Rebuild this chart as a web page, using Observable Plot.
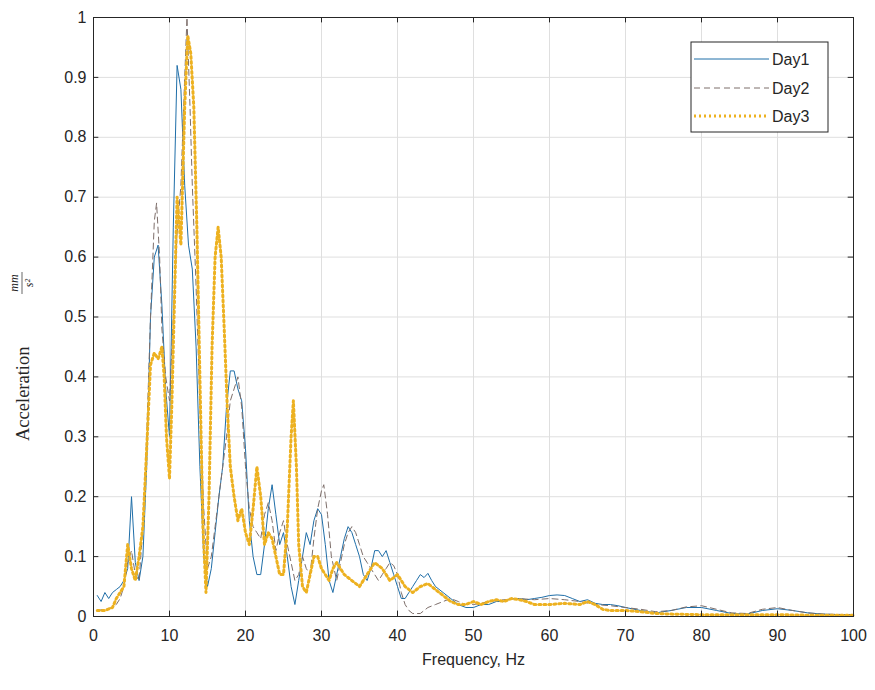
<!DOCTYPE html>
<html><head><meta charset="utf-8">
<script src="https://cdn.jsdelivr.net/npm/d3@7"></script>
<script src="https://cdn.jsdelivr.net/npm/@observablehq/plot@0.6"></script>
<style>body{margin:0;background:#fff}</style></head>
<body><div id="chart"></div>
<script>
const seriesNames = ["Day1", "Day2", "Day3"];

const day1Freq = [0.5,1,1.5,2,2.5,3,3.5,4,4.5,5,5.5,6,6.5,7,7.5,8,8.5,9,9.5,10,10.5,11,11.5,12,12.5,13,13.5,14,14.5,15,15.5,16,16.5,17,17.5,18,18.5,19,19.5,20,20.5,21,21.5,22,22.5,23,23.5,24,24.5,25,25.5,26,26.5,27,27.5,28,28.5,29,29.5,30,30.5,31,31.5,32,32.5,33,33.5,34,34.5,35,35.5,36,36.5,37,37.5,38,38.5,39,39.5,40,40.5,41,41.5,42,42.5,43,43.5,44,44.5,45,46,47,48,49,50,51,52,53,54,55,56,57,58,59,60,61,62,63,64,65,66,67,68,69,70,72,74,76,78,80,82,84,86,88,90,92,94,96,98,100];
const day1Acc = [0.035,0.025,0.04,0.03,0.04,0.045,0.05,0.06,0.08,0.2,0.09,0.06,0.1,0.25,0.5,0.6,0.62,0.52,0.38,0.3,0.65,0.92,0.88,0.72,0.62,0.58,0.45,0.25,0.1,0.05,0.08,0.14,0.2,0.25,0.35,0.41,0.41,0.38,0.36,0.28,0.16,0.1,0.07,0.07,0.12,0.18,0.22,0.17,0.12,0.14,0.1,0.05,0.02,0.06,0.1,0.14,0.12,0.16,0.18,0.17,0.12,0.06,0.04,0.07,0.1,0.13,0.15,0.14,0.12,0.1,0.07,0.06,0.08,0.11,0.11,0.1,0.11,0.09,0.07,0.05,0.03,0.03,0.04,0.05,0.06,0.07,0.065,0.072,0.06,0.05,0.04,0.03,0.02,0.015,0.015,0.02,0.02,0.025,0.025,0.03,0.03,0.028,0.03,0.032,0.035,0.036,0.035,0.03,0.025,0.028,0.022,0.02,0.02,0.018,0.015,0.01,0.006,0.01,0.015,0.015,0.01,0.005,0.004,0.01,0.013,0.01,0.006,0.004,0.003,0.003];

const day2Freq = [0.5,1.5,2.5,3,3.5,4,4.5,5,5.5,6,6.5,7,7.5,8,8.3,8.7,9,9.5,10,10.5,11,11.5,12,12.3,12.7,13,13.5,14,14.5,15,15.5,16,16.5,17,17.5,18,18.5,19,19.5,20,20.5,21,21.5,22,22.5,23,23.5,24,24.5,25,25.5,26,26.5,27,27.5,28,28.5,29,29.5,30,30.3,30.8,31.3,32,32.5,33,33.5,34,34.5,35,35.5,36,36.5,37,37.5,38,38.5,39,39.5,40,40.5,41,41.5,42,43,44,45,46,47,48,49,50,51,52,54,56,58,60,62,64,66,68,70,72,74,76,78,80,82,84,86,88,90,92,94,96,100];
const day2Acc = [0.01,0.012,0.015,0.02,0.03,0.05,0.09,0.11,0.07,0.06,0.15,0.3,0.5,0.66,0.69,0.6,0.48,0.4,0.36,0.5,0.64,0.72,0.9,1.0,0.85,0.72,0.55,0.35,0.18,0.08,0.1,0.15,0.2,0.25,0.3,0.36,0.38,0.4,0.35,0.25,0.18,0.15,0.14,0.13,0.17,0.19,0.16,0.11,0.14,0.16,0.12,0.09,0.06,0.07,0.1,0.08,0.07,0.13,0.18,0.21,0.22,0.17,0.1,0.06,0.09,0.12,0.14,0.15,0.14,0.12,0.1,0.09,0.08,0.07,0.06,0.07,0.08,0.09,0.085,0.07,0.04,0.02,0.01,0.005,0.005,0.015,0.02,0.025,0.03,0.025,0.02,0.02,0.022,0.025,0.028,0.03,0.028,0.03,0.028,0.025,0.02,0.018,0.015,0.012,0.008,0.01,0.016,0.018,0.012,0.006,0.005,0.012,0.015,0.01,0.006,0.004,0.003];

const day3Freq = [0.5,1.5,2.5,3,3.5,4,4.5,5,5.5,6,6.5,7,7.5,8,8.5,9,9.3,9.6,10,10.3,10.7,11,11.5,12,12.4,12.8,13.2,13.6,14,14.4,14.8,15.2,15.6,16,16.4,16.8,17.2,17.6,18,18.5,19,19.5,20,20.5,21,21.5,22,22.5,23,23.5,24,24.5,25,25.5,26,26.3,26.7,27,27.5,28,28.5,29,29.5,30,30.5,31,31.5,32,32.5,33,34,35,35.5,36,36.5,37,37.5,38,38.5,39,39.5,40,41,42,43,44,45,46,47,48,49,50,51,52,53,54,55,56,57,58,59,60,62,64,65,66,67,68,70,72,74,76,80,85,90,95,100];
const day3Acc = [0.01,0.01,0.015,0.03,0.04,0.05,0.12,0.08,0.06,0.1,0.15,0.28,0.42,0.44,0.43,0.45,0.4,0.3,0.23,0.35,0.55,0.7,0.62,0.85,0.97,0.94,0.85,0.65,0.4,0.15,0.04,0.2,0.45,0.6,0.65,0.6,0.48,0.35,0.25,0.2,0.16,0.18,0.14,0.12,0.18,0.25,0.2,0.12,0.14,0.13,0.1,0.07,0.07,0.15,0.3,0.36,0.25,0.12,0.05,0.04,0.07,0.1,0.1,0.08,0.07,0.06,0.08,0.09,0.08,0.07,0.06,0.05,0.06,0.07,0.08,0.09,0.085,0.08,0.07,0.06,0.065,0.07,0.05,0.04,0.05,0.055,0.045,0.035,0.025,0.02,0.02,0.025,0.02,0.025,0.028,0.025,0.03,0.028,0.025,0.02,0.02,0.02,0.022,0.02,0.025,0.02,0.012,0.01,0.01,0.008,0.005,0.004,0.003,0.003,0.003,0.002,0.002];

const xTicks = [0,10,20,30,40,50,60,70,80,90,100];
const xTickLabels = ["0","10","20","30","40","50","60","70","80","90","100"];
const yTicks = [0,0.1,0.2,0.3,0.4,0.5,0.6,0.7,0.8,0.9,1];
const yTickLabels = ["0","0.1","0.2","0.3","0.4","0.5","0.6","0.7","0.8","0.9","1"];
const xLabel = "Frequency, Hz";
const yLabelText = "Acceleration";
const yLabelNum = "mm";
const yLabelDen = "s²";

const colors = ["#1f6ea8", "#7d6e6a", "#EDB120"];
const dashes = ["none", "6,4", "2,3"];
const widths = [1, 1, 3];

const toRows = (fs, vs) => fs.map((f, i) => ({f, v: vs[i]}));
const series = [toRows(day1Freq, day1Acc), toRows(day2Freq, day2Acc), toRows(day3Freq, day3Acc)];

const fmtX = d => xTickLabels[xTicks.indexOf(d)];
const fmtY = d => yTickLabels[yTicks.indexOf(d)];

const plot = Plot.plot({
  width: 875, height: 690,
  marginLeft: 93, marginRight: 22, marginTop: 17, marginBottom: 74,
  style: {fontFamily: "'Liberation Sans', Arial, sans-serif", fontSize: "16px", color: "#262626", background: "#fff"},
  x: {domain: [0, 100], label: null},
  y: {domain: [0, 1], label: null},
  marks: [
    Plot.gridX(xTicks, {stroke: "#dfdfdf", strokeOpacity: 1, strokeWidth: 1}),
    Plot.gridY(yTicks, {stroke: "#dfdfdf", strokeOpacity: 1, strokeWidth: 1}),
    ...series.map((rows, i) => Plot.line(rows, {
      x: "f", y: "v", stroke: colors[i], strokeWidth: widths[i],
      strokeDasharray: dashes[i], strokeLinejoin: "round"
    })),
    Plot.ruleX(xTicks, {y1: 0, y2: 0.009, stroke: "#262626"}),
    Plot.ruleX(xTicks, {y1: 0.991, y2: 1, stroke: "#262626"}),
    Plot.ruleY(yTicks, {x1: 0, x2: 0.7, stroke: "#262626"}),
    Plot.ruleY(yTicks, {x1: 99.3, x2: 100, stroke: "#262626"}),
    Plot.frame({stroke: "#262626", strokeWidth: 1}),
    Plot.axisX(xTicks, {tickSize: 0, tickPadding: 13, tickFormat: fmtX, fontSize: 16, fill: "#262626"}),
    Plot.axisY(yTicks, {tickSize: 0, tickPadding: 7, tickFormat: fmtY, fontSize: 16, fill: "#262626"}),
    Plot.text([xLabel], {frameAnchor: "bottom", dy: 48, fontSize: 16, fill: "#262626"})
  ]
});

const svg = d3.select(plot);
// y-axis label (LaTeX-style with fraction)
const yl = svg.append("g").attr("transform", "translate(24,441) rotate(-90)")
  .attr("font-family", "'Liberation Serif', 'DejaVu Serif', serif").attr("fill", "#262626");
yl.append("text").attr("x", 0).attr("y", 5).attr("font-size", 18.5).attr("text-anchor", "start").text(yLabelText);
yl.append("text").attr("x", 158).attr("y", -6).attr("font-size", 12).attr("text-anchor", "middle").attr("font-style", "italic").text(yLabelNum);
yl.append("line").attr("x1", 147).attr("x2", 169).attr("y1", -2).attr("y2", -2).attr("stroke", "#262626").attr("stroke-width", 0.7);
yl.append("text").attr("x", 158).attr("y", 9).attr("font-size", 12).attr("text-anchor", "middle").attr("font-style", "italic").text(yLabelDen);

// legend
const lg = svg.append("g");
lg.append("rect").attr("x", 691).attr("y", 42).attr("width", 137).attr("height", 90)
  .attr("fill", "#fff").attr("stroke", "#262626").attr("stroke-width", 1);
const rowsY = [59, 88, 116];
seriesNames.forEach((name, i) => {
  lg.append("line").attr("x1", 694).attr("x2", 769).attr("y1", rowsY[i]).attr("y2", rowsY[i])
    .attr("stroke", colors[i]).attr("stroke-width", widths[i])
    .attr("stroke-dasharray", dashes[i]);
  lg.append("text").attr("x", 772).attr("y", rowsY[i]).attr("dy", "0.35em")
    .attr("text-anchor", "start")
    .attr("font-family", "'Liberation Sans', Arial, sans-serif").attr("font-size", 16)
    .attr("fill", "#262626").text(name);
});

document.getElementById("chart").appendChild(plot);
</script>
</body></html>
